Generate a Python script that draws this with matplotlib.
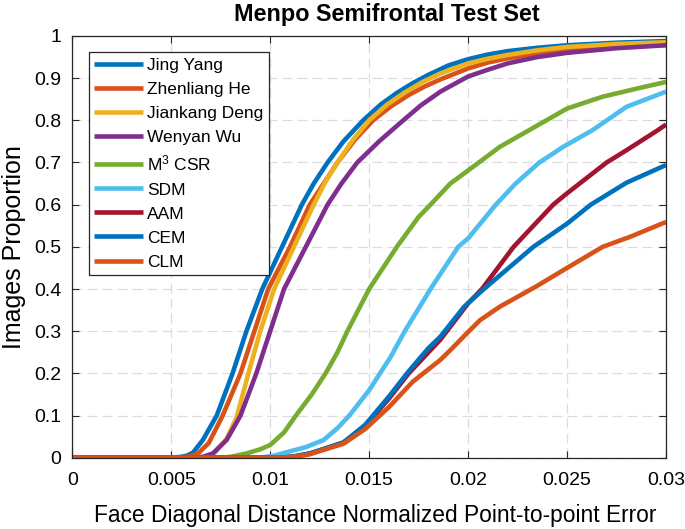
import matplotlib
matplotlib.use("Agg")
import matplotlib.pyplot as plt

plt.rcParams['font.family'] = ['Liberation Sans', 'DejaVu Sans']
plt.rcParams['mathtext.fontset'] = 'custom'
plt.rcParams['mathtext.rm'] = 'Liberation Sans'
plt.rcParams['mathtext.it'] = 'Liberation Sans:italic'
plt.rcParams['mathtext.bf'] = 'Liberation Sans:bold'

title = "Menpo Semifrontal Test Set"
xlabel = "Face Diagonal Distance Normalized Point-to-point Error"
ylabel = "Images Proportion"

names = ["Jing Yang", "Zhenliang He", "Jiankang Deng", "Wenyan Wu",
         "M$^3$ CSR", "SDM", "AAM", "CEM", "CLM"]
colors = ["#0072BD", "#D95319", "#EDB120", "#7E2F8E", "#77AC30",
          "#4DBEEE", "#A2142F", "#0072BD", "#D95319"]

jing_x = [0, 0.0050, 0.0055, 0.0058, 0.0061, 0.0066, 0.0073, 0.0081, 0.0088, 0.0096,
          0.0106, 0.0116, 0.0122, 0.0129, 0.0137, 0.0147, 0.0156, 0.0164, 0.0172, 0.0180,
          0.0190, 0.0200, 0.0210, 0.0220, 0.0235, 0.0250, 0.0275, 0.0300]
jing_y = [0, 0, 0.002, 0.005, 0.012, 0.042, 0.1, 0.2, 0.3, 0.4,
          0.5, 0.6, 0.65, 0.7, 0.75, 0.8, 0.838, 0.865, 0.888, 0.908,
          0.93, 0.945, 0.956, 0.964, 0.972, 0.978, 0.984, 0.988]

zhen_x = [0, 0.0052, 0.0058, 0.0061, 0.0064, 0.0069, 0.0076, 0.0085, 0.0092, 0.0099,
          0.0110, 0.0120, 0.0127, 0.0134, 0.0143, 0.0152, 0.0161, 0.0170, 0.0178, 0.0186,
          0.0200, 0.0210, 0.0220, 0.0235, 0.0250, 0.0275, 0.0300]
zhen_y = [0, 0, 0.002, 0.005, 0.012, 0.035, 0.1, 0.2, 0.3, 0.4,
          0.5, 0.6, 0.65, 0.7, 0.755, 0.8, 0.833, 0.86, 0.88, 0.897,
          0.923, 0.937, 0.947, 0.958, 0.966, 0.974, 0.979]

jian_x = [0, 0.0060, 0.0066, 0.0069, 0.0072, 0.0078, 0.0083, 0.0089, 0.0095, 0.0102,
          0.0112, 0.0122, 0.0128, 0.0134, 0.0142, 0.0150, 0.0159, 0.0168, 0.0177, 0.0186,
          0.0200, 0.0210, 0.0220, 0.0235, 0.0250, 0.0275, 0.0300]
jian_y = [0, 0, 0.002, 0.005, 0.012, 0.045, 0.095, 0.2, 0.3, 0.4,
          0.5, 0.6, 0.655, 0.7, 0.755, 0.8, 0.837, 0.866, 0.891, 0.911,
          0.935, 0.946, 0.955, 0.966, 0.974, 0.981, 0.985]

wen_x = [0, 0.0060, 0.0066, 0.0071, 0.0078, 0.0085, 0.0093, 0.0100, 0.0107, 0.0118,
         0.0129, 0.0136, 0.0144, 0.0155, 0.0166, 0.0176, 0.0186, 0.0200, 0.0210, 0.0220,
         0.0235, 0.0250, 0.0275, 0.0300]
wen_y = [0, 0, 0.002, 0.01, 0.042, 0.1, 0.2, 0.3, 0.4, 0.5,
         0.6, 0.65, 0.7, 0.75, 0.795, 0.835, 0.868, 0.904, 0.92, 0.935,
         0.95, 0.96, 0.971, 0.978]

m3_x = [0, 0.0075, 0.0080, 0.0088, 0.0095, 0.0100, 0.0107, 0.0113, 0.0121, 0.0128,
        0.0134, 0.0139, 0.0150, 0.0164, 0.0175, 0.0181, 0.0191, 0.0204, 0.0216, 0.0231,
        0.0250, 0.0268, 0.0285, 0.0300]
m3_y = [0, 0, 0.002, 0.01, 0.02, 0.03, 0.06, 0.1, 0.15, 0.2,
        0.25, 0.3, 0.4, 0.5, 0.571, 0.6, 0.65, 0.695, 0.737, 0.777,
        0.828, 0.856, 0.875, 0.891]

sdm_x = [0, 0.0095, 0.0102, 0.0110, 0.0118, 0.0127, 0.0134, 0.0140, 0.0150, 0.0161,
         0.0168, 0.0181, 0.0195, 0.0200, 0.0214, 0.0224, 0.0236, 0.0248, 0.0263, 0.0280,
         0.0300]
sdm_y = [0, 0, 0.005, 0.015, 0.025, 0.042, 0.07, 0.1, 0.16, 0.24,
         0.3, 0.4, 0.5, 0.52, 0.6, 0.65, 0.7, 0.737, 0.777, 0.832,
         0.868]

aam_x = [0, 0.0105, 0.0112, 0.0120, 0.0128, 0.0137, 0.0148, 0.0160, 0.0170, 0.0181,
         0.0186, 0.0200, 0.0207, 0.0223, 0.0243, 0.0250, 0.0270, 0.0280, 0.0296, 0.0300]
aam_y = [0, 0, 0.003, 0.01, 0.022, 0.036, 0.075, 0.14, 0.2, 0.255,
         0.28, 0.366, 0.4, 0.5, 0.6, 0.627, 0.7, 0.729, 0.777, 0.79]

cem_x = [0, 0.0105, 0.0112, 0.0120, 0.0128, 0.0137, 0.0148, 0.0160, 0.0170, 0.0180,
         0.0186, 0.0198, 0.0208, 0.0233, 0.0250, 0.0262, 0.0280, 0.0300]
cem_y = [0, 0, 0.003, 0.01, 0.022, 0.036, 0.078, 0.145, 0.205, 0.26,
         0.287, 0.358, 0.4, 0.5, 0.555, 0.6, 0.652, 0.694]

clm_x = [0, 0.0105, 0.0112, 0.0120, 0.0128, 0.0137, 0.0148, 0.0160, 0.0172, 0.0186,
         0.0191, 0.0200, 0.0206, 0.0216, 0.0234, 0.0250, 0.0268, 0.0282, 0.0300]
clm_y = [0, 0, 0.002, 0.008, 0.02, 0.033, 0.068, 0.12, 0.18, 0.232,
         0.255, 0.298, 0.326, 0.358, 0.405, 0.45, 0.5, 0.524, 0.559]

series = [(jing_x, jing_y), (zhen_x, zhen_y), (jian_x, jian_y), (wen_x, wen_y),
          (m3_x, m3_y), (sdm_x, sdm_y), (aam_x, aam_y), (cem_x, cem_y), (clm_x, clm_y)]

xticks = [0, 0.005, 0.01, 0.015, 0.02, 0.025, 0.03]
xticklabels = ["0", "0.005", "0.01", "0.015", "0.02", "0.025", "0.03"]
yticks = [0, 0.1, 0.2, 0.3, 0.4, 0.5, 0.6, 0.7, 0.8, 0.9, 1]
yticklabels = ["0", "0.1", "0.2", "0.3", "0.4", "0.5", "0.6", "0.7", "0.8", "0.9", "1"]

fig = plt.figure(figsize=(6.85, 5.29), dpi=100)
ax = fig.add_axes([0.1055, 0.1348, 0.8668, 0.7972])

for (xs, ys), name, c in zip(series, names, colors):
    ax.plot(xs, ys, color=c, lw=3.3, label=name,
            solid_joinstyle='round', solid_capstyle='butt')

ax.set_xlim(0, 0.03)
ax.set_ylim(0, 1)
ax.set_xticks(xticks)
ax.set_xticklabels(xticklabels)
ax.set_yticks(yticks)
ax.set_yticklabels(yticklabels)
ax.tick_params(direction='in', top=True, right=True, length=5, width=0.8,
               labelsize=14, color='#262626')
ax.tick_params(axis='x', pad=10)
ax.tick_params(axis='y', pad=8)
ax.grid(True, color='#DCDCDC', linestyle=(0, (8, 4)), linewidth=0.9)
ax.set_axisbelow(True)
for s in ax.spines.values():
    s.set_color('#262626')
    s.set_linewidth(0.9)

ax.set_title(title, fontsize=16.8, fontweight='bold', pad=11, x=0.53)
ax.set_xlabel(xlabel, fontsize=16.4, labelpad=11, x=0.51)
ax.set_ylabel(ylabel, fontsize=18, labelpad=6)

leg = ax.legend(loc='upper left', bbox_to_anchor=(0.028, 0.961), borderaxespad=0,
                fontsize=12.5, frameon=True, fancybox=False, framealpha=1,
                edgecolor='#262626', handlelength=2.8, handletextpad=0.25,
                labelspacing=0.51, borderpad=0.3)
leg.get_frame().set_linewidth(0.9)

fig.savefig("out.png", dpi=100)
